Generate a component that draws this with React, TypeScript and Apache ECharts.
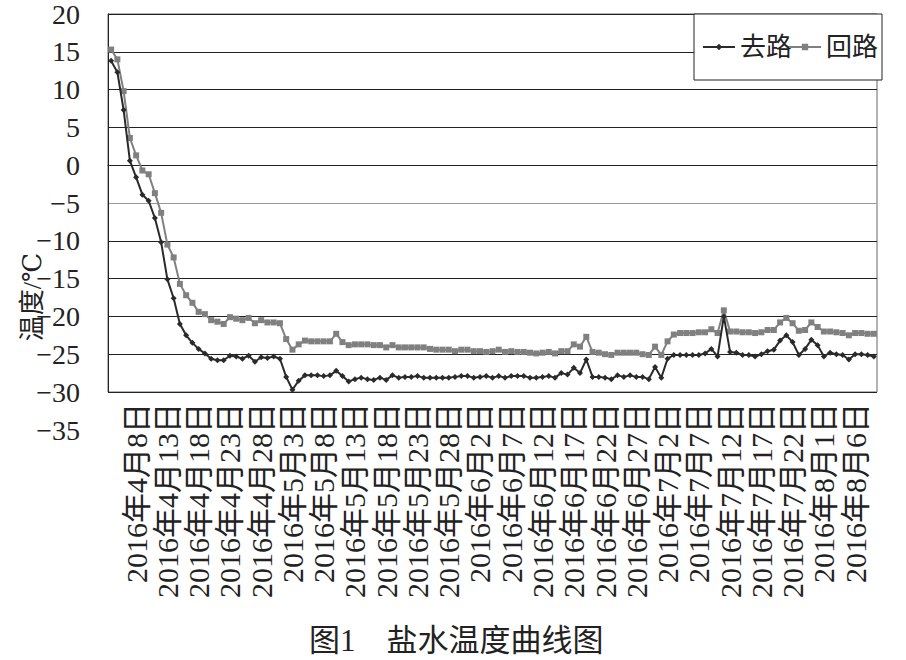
import React, { useEffect, useRef } from 'react';
import * as echarts from 'echarts';

// Date runs of the category axis: [month, firstDay, lastDay] (some late-July days are missing in the record)
const MONTH_RUNS: [number, number, number][] = [
  [4, 4, 30],
  [5, 1, 31],
  [6, 1, 30],
  [7, 1, 26],
  [8, 1, 9],
];

// 去路 (supply) brine temperature, °C
const OUTBOUND: number[] = [
  13.8, 12.3, 7.3, 0.6, -1.6, -3.9, -4.7, -7.0, -10.2, -15.1,
  -17.6, -21.0, -22.5, -23.5, -24.3, -24.9, -25.6, -25.8, -25.8, -25.2,
  -25.3, -25.6, -25.2, -26.0, -25.4, -25.5, -25.3, -25.6, -28.0, -29.7,
  -28.5, -27.8, -27.8, -27.8, -27.9, -27.8, -27.2, -27.9, -28.6, -28.3,
  -28.1, -28.3, -28.4, -28.1, -28.4, -27.8, -28.1, -28.0, -28.0, -27.9,
  -28.1, -28.1, -28.1, -28.1, -28.1, -28.0, -27.9, -27.9, -28.1, -28.0,
  -27.9, -28.1, -27.9, -28.1, -27.9, -27.9, -27.9, -28.1, -28.1, -28.0,
  -27.9, -28.1, -27.5, -27.7, -26.8, -27.5, -25.7, -28.0, -28.0, -28.1,
  -28.3, -27.8, -28.0, -27.8, -28.0, -28.0, -28.3, -26.7, -28.1, -25.6,
  -25.1, -25.1, -25.1, -25.1, -25.1, -24.9, -24.3, -25.3, -20.0, -24.7,
  -24.8, -25.1, -25.1, -25.3, -25.0, -24.6, -24.4, -23.2, -22.5, -23.4,
  -25.1, -24.3, -23.1, -23.8, -25.3, -24.8, -25.0, -25.1, -25.7, -25.0,
  -25.0, -25.1, -25.3,
];

// 回路 (return) brine temperature, °C
const RETURN: number[] = [
  15.3, 14.0, 9.8, 3.6, 1.3, -0.7, -1.2, -3.7, -6.3, -10.5,
  -12.2, -15.7, -17.2, -18.2, -19.4, -19.7, -20.5, -20.7, -21.0, -20.1,
  -20.3, -20.5, -20.2, -20.9, -20.5, -20.8, -20.8, -20.9, -23.0, -24.4,
  -23.7, -23.2, -23.3, -23.3, -23.3, -23.3, -22.3, -23.4, -23.8, -23.7,
  -23.7, -23.7, -23.8, -23.8, -24.1, -23.8, -24.1, -24.1, -24.1, -24.1,
  -24.1, -24.3, -24.4, -24.4, -24.4, -24.6, -24.4, -24.4, -24.6, -24.6,
  -24.7, -24.6, -24.4, -24.7, -24.6, -24.7, -24.7, -24.8, -24.9, -24.8,
  -24.7, -24.9, -24.6, -24.6, -23.7, -24.0, -22.7, -24.7, -24.8, -25.0,
  -25.1, -24.8, -24.8, -24.8, -24.8, -25.0, -25.1, -24.0, -25.1, -23.3,
  -22.4, -22.2, -22.2, -22.2, -22.1, -22.1, -21.7, -22.2, -19.2, -22.0,
  -22.0, -22.1, -22.1, -22.2, -22.1, -21.8, -21.8, -20.8, -20.2, -20.9,
  -21.9, -21.8, -20.8, -21.4, -22.0, -22.0, -22.1, -22.2, -22.5, -22.2,
  -22.2, -22.3, -22.3,
];

const SERIES_NAMES = ['去路', '回路'];
const Y_NAME = '温度/℃';
const TITLE = '图1　盐水温度曲线图';

const CATEGORIES: string[] = [];
MONTH_RUNS.forEach(([m, d0, d1]) => {
  for (let d = d0; d <= d1; d++) CATEGORIES.push(`2016年${m}月${d}日`);
});

const SERIF = 'Liberation Serif, DejaVu Serif, Noto Sans CJK SC, serif';
const INK = '#222';

export default function App() {
  const ref = useRef<HTMLDivElement>(null);

  useEffect(() => {
    if (!ref.current) return;
    const chart = echarts.init(ref.current, undefined, { renderer: 'svg' });
    const minus = (v: number) => String(v).replace('-', '\u2212');
    const splitColors = ['#222', '#222', '#222', '#222', '#222', '#999', '#222', '#222', '#222', '#222', '#222'];

    chart.setOption({
      animation: false,
      backgroundColor: '#fff',
      title: {
        text: TITLE,
        left: 309,
        top: 624,
        padding: 0,
        textStyle: { fontSize: 31, fontWeight: 'normal', fontFamily: SERIF, color: INK, lineHeight: 32 },
      },
      legend: {
        data: SERIES_NAMES,
        left: 694,
        top: 14,
        padding: [20, 4, 20, 8],
        itemWidth: 32,
        itemHeight: 8,
        itemGap: -4,
        backgroundColor: '#fff',
        borderColor: INK,
        borderWidth: 1,
        textStyle: { fontSize: 26, fontFamily: SERIF, color: INK },
      },
      grid: [
        { left: 108, right: 29, top: 10, height: 382, show: true, borderColor: '#666', borderWidth: 1, containLabel: false },
        { left: 108, right: 29, top: 392, height: 38, show: false, containLabel: false },
      ],
      xAxis: [
        {
          type: 'category',
          gridIndex: 0,
          data: CATEGORIES,
          boundaryGap: true,
          axisLine: { lineStyle: { color: INK, width: 1 } },
          axisTick: {
            inside: true,
            length: 5,
            interval: (i: number) => i % 5 === 0,
            lineStyle: { color: INK },
          },
          axisLabel: {
            interval: (i: number) => i % 5 === 4,
            rotate: 90,
            margin: 11,
            fontSize: 30,
            fontFamily: SERIF,
            color: INK,
          },
          splitLine: { show: false },
        },
        { type: 'category', gridIndex: 1, data: CATEGORIES, show: false },
      ],
      yAxis: [
        {
          type: 'value',
          gridIndex: 0,
          min: -30,
          max: 20,
          interval: 5,
          axisLine: { show: true, lineStyle: { color: INK, width: 1 } },
          axisTick: { show: false },
          splitLine: { show: true, lineStyle: { color: splitColors, width: 1 } },
          axisLabel: { margin: 28, fontSize: 28, fontFamily: SERIF, color: INK, formatter: minus },
        },
        {
          type: 'value',
          gridIndex: 1,
          min: -35,
          max: -30,
          interval: 5,
          axisLine: { show: false },
          axisTick: { show: false },
          splitLine: { show: false },
          axisLabel: { showMaxLabel: false, margin: 28, fontSize: 28, fontFamily: SERIF, color: INK, formatter: minus },
        },
      ],
      graphic: [
        {
          type: 'text',
          x: 32,
          y: 297,
          rotation: Math.PI / 2,
          style: {
            text: Y_NAME,
            fontSize: 26,
            fontFamily: SERIF,
            fill: INK,
            align: 'center',
            verticalAlign: 'middle',
          },
        },
      ],
      series: [
        {
          name: SERIES_NAMES[0],
          type: 'line',
          xAxisIndex: 0,
          yAxisIndex: 0,
          data: OUTBOUND,
          symbol: 'diamond',
          symbolSize: 6,
          showAllSymbol: true,
          lineStyle: { color: '#2a2a2a', width: 2 },
          itemStyle: { color: '#2a2a2a' },
          z: 3,
        },
        {
          name: SERIES_NAMES[1],
          type: 'line',
          xAxisIndex: 0,
          yAxisIndex: 0,
          data: RETURN,
          symbol: 'rect',
          symbolSize: 6,
          showAllSymbol: true,
          lineStyle: { color: '#808080', width: 2 },
          itemStyle: { color: '#808080' },
          z: 2,
        },
      ],
    });

    return () => chart.dispose();
  }, []);

  return (
    <div
      ref={ref}
      style={{ position: 'fixed', left: 0, top: 0, width: 906, height: 660, background: '#fff' }}
    />
  );
}
